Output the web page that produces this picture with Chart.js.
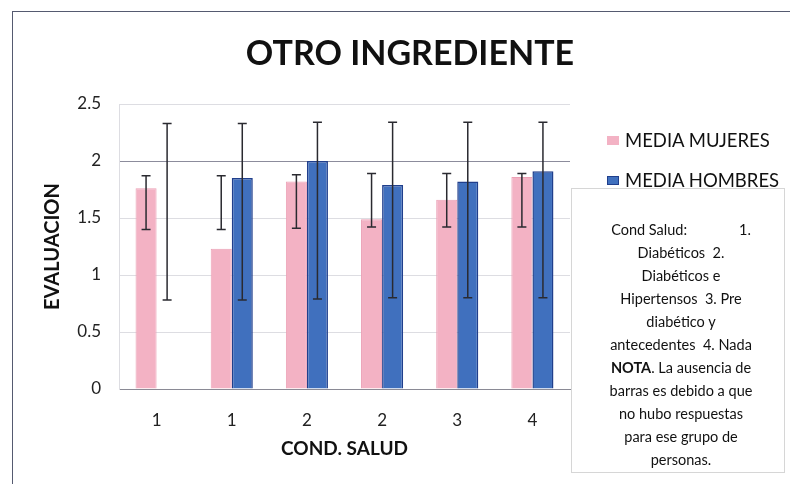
<!DOCTYPE html>
<html>
<head>
<meta charset="utf-8">
<script src="https://cdn.jsdelivr.net/npm/chart.js@4"></script>
<style>
  body { margin: 0; background: #fff; }
  #wrap { position: relative; width: 790px; height: 484px; font-family: Lato, "Open Sans", sans-serif; color: #111; }
  #frame { position: absolute; left: 12px; top: 11px; right: 0; bottom: 0; border-left: 1px solid #555a70; border-top: 1px solid #555a70; }
  #ttl { position: absolute; left: 210px; width: 400px; top: 31px; text-align: center; font-weight: bold; font-size: 34px; }
  .leg { position: absolute; left: 607px; font-size: 18.5px; white-space: nowrap; }
  .leg span { display: inline-block; width: 12px; height: 9px; margin-right: 6px; vertical-align: 2px; }
  #note { position: absolute; left: 571px; top: 188px; width: 214px; height: 285px; border: 1px solid #d6d6d6; box-sizing: border-box;
          text-align: center; font-size: 14.5px; line-height: 23px; padding-top: 29px; padding-left: 6px; }
</style>
</head>
<body>
<div id="wrap">
  <canvas id="myChart" width="790" height="484"></canvas>
  <div id="frame"></div>
  <div id="ttl">OTRO INGREDIENTE</div>
  <div class="leg" style="top:129px"><span style="background:#F3B2C4"></span>MEDIA MUJERES</div>
  <div class="leg" style="top:169px"><span style="background:#4070BE;border:1px solid #203F8C;width:10px;height:7px"></span>MEDIA HOMBRES</div>
  <div id="note">Cond Salud:&nbsp;&nbsp;&nbsp;&nbsp;&nbsp;&nbsp;&nbsp;&nbsp;&nbsp;&nbsp;&nbsp;&nbsp;&nbsp;&nbsp;1.<br>Diabéticos&nbsp; 2.<br>Diabéticos e<br>Hipertensos&nbsp; 3. Pre<br>diabético y<br>antecedentes&nbsp; 4. Nada<br><b>NOTA</b>. La ausencia de<br>barras es debido a que<br>no hubo respuestas<br>para ese grupo de<br>personas.</div>
</div>
<script>
const categories = ['1', '1', '2', '2', '3', '4'];
const mujeres = [1.76, 1.23, 1.82, 1.49, 1.66, 1.86];
const hombres = [null, 1.85, 2.0, 1.79, 1.82, 1.91];
// error bar ends
const mujeresLow = [1.40, 1.40, 1.41, 1.42, 1.42, 1.42];
const mujeresHigh = [1.87, 1.87, 1.88, 1.89, 1.89, 1.89];
const hombresLow = [0.78, 0.78, 0.79, 0.80, 0.80, 0.80];
const hombresHigh = [2.33, 2.33, 2.34, 2.34, 2.34, 2.34];
const yTicks = [0, 0.5, 1, 1.5, 2, 2.5];

const errorBars = {
  id: 'errorBars',
  afterDatasetsDraw(chart) {
    const ctx = chart.ctx;
    const y = chart.scales.y;
    const ranges = [[mujeresLow, mujeresHigh], [hombresLow, hombresHigh]];
    ctx.save();
    ctx.strokeStyle = '#2a2a30';
    ctx.lineWidth = 1.5;
    ranges.forEach(function (r, d) {
      const meta = chart.getDatasetMeta(d);
      meta.data.forEach(function (bar, i) {
        const x = bar.x;
        const y1 = y.getPixelForValue(r[0][i]);
        const y2 = y.getPixelForValue(r[1][i]);
        ctx.beginPath();
        ctx.moveTo(x, y1); ctx.lineTo(x, y2);
        ctx.moveTo(x - 4.5, y1); ctx.lineTo(x + 4.5, y1);
        ctx.moveTo(x - 4.5, y2); ctx.lineTo(x + 4.5, y2);
        ctx.stroke();
      });
    });
    ctx.restore();
  }
};

new Chart(document.getElementById('myChart'), {
  type: 'bar',
  data: {
    labels: categories,
    datasets: [{
      label: 'MEDIA MUJERES',
      data: mujeres,
      backgroundColor: '#F3B2C4',
      borderColor: '#EBA0B5',
      borderWidth: 1
    }, {
      label: 'MEDIA HOMBRES',
      data: hombres,
      backgroundColor: '#4070BE',
      borderColor: '#203F8C',
      borderWidth: 1.5
    }]
  },
  options: {
    responsive: false,
    animation: false,
    layout: { padding: { left: 0, top: 104, right: 220, bottom: 0 } },
    plugins: { legend: { display: false }, tooltip: { enabled: false } },
    datasets: { bar: { categoryPercentage: 0.56, barPercentage: 1 } },
    scales: {
      x: {
        grid: { display: false },
        border: { color: '#8a8a95' },
        ticks: { color: '#222', font: { family: 'Lato', size: 17 }, padding: 13 },
        title: { display: true, text: 'COND. SALUD', color: '#111', font: { family: 'Lato', size: 19, weight: 'bold' }, padding: { bottom: 24 } },
        afterFit(scale) { scale.height = 95; }
      },
      y: {
        min: 0,
        max: 2.5,
        afterBuildTicks(scale) { scale.ticks = yTicks.map(v => ({ value: v })); },
        grid: {
          drawTicks: false,
          color: ctx => (ctx.tick && ctx.tick.value === 2 ? '#8c8c9c' : '#dddde2')
        },
        border: { color: '#dddde2' },
        ticks: { color: '#222', font: { family: 'Lato', size: 17 }, padding: 18, callback: v => String(v) },
        title: { display: true, text: 'EVALUACION', color: '#111', font: { family: 'Lato', size: 20, weight: 'bold' }, padding: { top: 41 } },
        afterFit(scale) { scale.width = 119; }
      }
    }
  },
  plugins: [errorBars]
});
</script>
</body>
</html>
